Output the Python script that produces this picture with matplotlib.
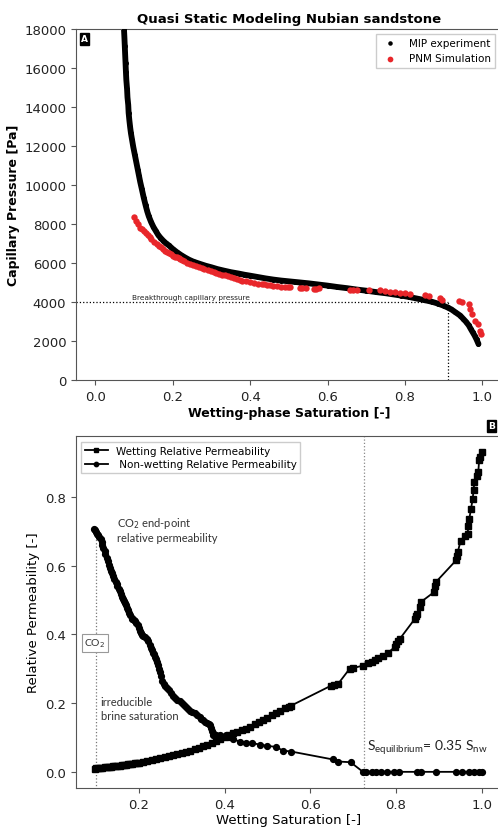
import matplotlib
matplotlib.use("Agg")
import matplotlib.pyplot as plt

# ---------------- Panel A data ----------------
mip_sw = [0.074, 0.075, 0.076, 0.077, 0.078, 0.079, 0.080, 0.082, 0.083, 0.085, 0.086, 0.088, 0.090,
          0.092, 0.095, 0.098, 0.102, 0.106, 0.110, 0.113, 0.116, 0.120, 0.125, 0.130, 0.134,
          0.138, 0.144, 0.150, 0.156, 0.162, 0.168, 0.175, 0.182, 0.190, 0.200, 0.211, 0.222,
          0.232, 0.242, 0.252, 0.262, 0.271, 0.285, 0.300, 0.315, 0.332, 0.350, 0.370, 0.385,
          0.400, 0.420, 0.440, 0.460, 0.480, 0.500, 0.515, 0.530, 0.550, 0.575, 0.600, 0.625,
          0.650, 0.675, 0.700, 0.725, 0.750, 0.770, 0.790, 0.810, 0.830, 0.850, 0.870, 0.885,
          0.900, 0.910, 0.920, 0.930, 0.943, 0.950, 0.958, 0.965, 0.970, 0.975, 0.980, 0.985,
          0.990]
mip_pc = [18000, 17600, 17150, 16700, 16250, 15800, 15400, 14900, 14500, 14100, 13700, 13300, 12950,
          12650, 12300, 11950, 11550, 11150, 10750, 10450, 10150, 9800, 9350, 8950, 8650,
          8400, 8100, 7850, 7650, 7450, 7300, 7150, 7020, 6900, 6720, 6550, 6400,
          6280, 6170, 6080, 6010, 5950, 5860, 5780, 5690, 5610, 5530, 5460, 5400,
          5350, 5280, 5210, 5150, 5100, 5060, 5030, 5000, 4960, 4900, 4840, 4770,
          4710, 4640, 4580, 4510, 4450, 4390, 4330, 4260, 4180, 4100, 4010, 3920,
          3810, 3720, 3620, 3480, 3300, 3150, 2980, 2800, 2620, 2450, 2280, 2080,
          1850]

pnm_sw = [0.099, 0.105, 0.110, 0.115, 0.120, 0.125, 0.130, 0.135, 0.140, 0.145, 0.152, 0.159,
          0.165, 0.170, 0.175, 0.180, 0.185, 0.190, 0.195, 0.200, 0.205, 0.211, 0.216, 0.220,
          0.225, 0.230, 0.238, 0.245, 0.252, 0.260, 0.268, 0.275, 0.282, 0.290, 0.298, 0.306,
          0.313, 0.320, 0.328, 0.335, 0.342, 0.350, 0.358, 0.366, 0.373, 0.380, 0.390, 0.400,
          0.410, 0.420, 0.430, 0.437, 0.444, 0.452, 0.460, 0.470, 0.480, 0.490, 0.497, 0.504,
          0.530, 0.535, 0.545, 0.564, 0.570, 0.577,
          0.659, 0.666, 0.676, 0.706, 0.735, 0.749, 0.762, 0.773, 0.788, 0.801, 0.814, 0.853,
          0.861, 0.891, 0.896, 0.939, 0.948, 0.965, 0.969, 0.973, 0.982, 0.990, 0.995, 0.997]
pnm_pc = [8340, 8150, 7980, 7820, 7740, 7657, 7540, 7430, 7340, 7250, 7100, 6974,
          6880, 6800, 6720, 6640, 6570, 6500, 6440, 6380, 6330, 6290, 6250, 6200,
          6150, 6100, 6020, 5949, 5900, 5850, 5790, 5740, 5690, 5640, 5580, 5521,
          5490, 5450, 5400, 5360, 5320, 5280, 5230, 5180, 5140, 5100, 5060, 5010,
          4980, 4940, 4920, 4900, 4872, 4850, 4830, 4800, 4780, 4760, 4755, 4750,
          4740, 4700, 4700, 4667, 4680, 4700,
          4630, 4640, 4600, 4596, 4596, 4562, 4528, 4528, 4482, 4482, 4420, 4360,
          4288, 4185, 4117, 4066, 3980, 3897, 3640, 3385, 3043, 2872, 2530, 2360]

breakthrough_pc = 4000
breakthrough_sw = 0.91

# ---------------- Panel B data ----------------
krw_sw = [0.097, 0.100, 0.105, 0.110, 0.115, 0.120, 0.125, 0.130, 0.135, 0.140, 0.145, 0.150,
          0.155, 0.160, 0.165, 0.170, 0.175, 0.180, 0.185, 0.190, 0.195, 0.200,
          0.210, 0.220, 0.230, 0.240, 0.250, 0.260, 0.270, 0.280, 0.290, 0.300, 0.310, 0.320,
          0.330, 0.340, 0.350, 0.360, 0.370, 0.380, 0.390, 0.400, 0.410, 0.420, 0.430, 0.440,
          0.450, 0.460, 0.470, 0.480, 0.490, 0.500, 0.510, 0.520, 0.530, 0.540, 0.550, 0.556,
          0.649, 0.655, 0.665, 0.692, 0.700, 0.723, 0.735, 0.743, 0.750, 0.758, 0.770, 0.781,
          0.797, 0.800, 0.805, 0.809, 0.844, 0.847, 0.850, 0.855, 0.858, 0.889, 0.891, 0.893,
          0.940, 0.942, 0.944, 0.951, 0.960, 0.967, 0.969, 0.971, 0.975, 0.979, 0.981, 0.983,
          0.988, 0.992, 0.994, 0.997, 1.000]
krw = [0.009, 0.010, 0.0105, 0.011, 0.012, 0.013, 0.0135, 0.014, 0.015, 0.016, 0.0165, 0.017,
       0.018, 0.019, 0.020, 0.021, 0.022, 0.023, 0.024, 0.025, 0.026, 0.027,
       0.029, 0.031, 0.034, 0.036, 0.039, 0.042, 0.045, 0.048, 0.051, 0.054, 0.058, 0.062,
       0.066, 0.070, 0.074, 0.079, 0.084, 0.089, 0.095, 0.101, 0.106, 0.112, 0.117, 0.121,
       0.125, 0.131, 0.138, 0.145, 0.152, 0.158, 0.164, 0.170, 0.178, 0.185, 0.190, 0.193,
       0.251, 0.253, 0.256, 0.300, 0.302, 0.309, 0.316, 0.321, 0.326, 0.331, 0.338, 0.346,
       0.363, 0.372, 0.380, 0.387, 0.445, 0.452, 0.458, 0.480, 0.494, 0.523, 0.540, 0.552,
       0.615, 0.627, 0.639, 0.673, 0.685, 0.692, 0.715, 0.736, 0.765, 0.794, 0.820, 0.843,
       0.860, 0.872, 0.906, 0.915, 0.930]

krnw_sw = [0.095, 0.097, 0.100, 0.103, 0.105, 0.108, 0.111, 0.113, 0.115, 0.117, 0.120, 0.122,
           0.125, 0.127, 0.130, 0.132, 0.135, 0.137, 0.140, 0.143, 0.146, 0.148, 0.150, 0.153,
           0.155, 0.158, 0.160, 0.163, 0.165, 0.168, 0.170, 0.173, 0.175, 0.178, 0.180, 0.183,
           0.185, 0.188, 0.190, 0.194, 0.197, 0.200, 0.203, 0.205, 0.208, 0.210, 0.214, 0.218,
           0.221, 0.225, 0.228, 0.230, 0.233, 0.235, 0.238, 0.241, 0.243, 0.245, 0.247, 0.250,
           0.252, 0.255, 0.258, 0.261, 0.265, 0.270, 0.275, 0.280, 0.285, 0.290, 0.295, 0.300,
           0.305, 0.311, 0.315, 0.320, 0.325, 0.330, 0.336, 0.342, 0.346, 0.350, 0.355, 0.360,
           0.363, 0.366, 0.368, 0.370, 0.372, 0.373, 0.380, 0.390, 0.404,
           0.410, 0.420, 0.436, 0.450, 0.465, 0.482, 0.500, 0.521, 0.536, 0.556, 0.653, 0.665,
           0.694, 0.723, 0.730, 0.745, 0.753, 0.765, 0.780, 0.796, 0.807, 0.850, 0.858, 0.893,
           0.940, 0.955, 0.971, 0.983, 0.994, 1.000]
krnw = [0.707, 0.703, 0.698, 0.693, 0.688, 0.683, 0.676, 0.668, 0.660, 0.652, 0.642, 0.633,
        0.622, 0.613, 0.602, 0.594, 0.585, 0.578, 0.570, 0.560, 0.552, 0.546, 0.540, 0.531,
        0.525, 0.516, 0.510, 0.502, 0.497, 0.490, 0.484, 0.476, 0.470, 0.461, 0.455, 0.449,
        0.445, 0.441, 0.438, 0.432, 0.426, 0.418, 0.410, 0.405, 0.399, 0.395, 0.391, 0.387,
        0.380, 0.370, 0.361, 0.355, 0.347, 0.342, 0.335, 0.329, 0.320, 0.310, 0.300, 0.290,
        0.280, 0.265, 0.257, 0.251, 0.245, 0.238, 0.230, 0.222, 0.216, 0.210, 0.205, 0.200,
        0.194, 0.188, 0.183, 0.178, 0.174, 0.170, 0.165, 0.159, 0.155, 0.150, 0.146, 0.142,
        0.139, 0.135, 0.128, 0.120, 0.112, 0.106, 0.106, 0.106, 0.106,
        0.101, 0.095, 0.088, 0.085, 0.084, 0.079, 0.076, 0.072, 0.062, 0.059, 0.036, 0.030,
        0.028, 0.0, 0.0, 0.0, 0.0, 0.0, 0.0, 0.0, 0.0, 0.0, 0.0, 0.0,
        0.0, 0.0, 0.0, 0.0, 0.0, 0.0]

irreducible_sw = 0.1
equilibrium_sw = 0.725

W, H = 498, 828
fig = plt.figure(figsize=(W / 100, H / 100), dpi=100)

def fx(px):
    return px / W

def fy(py):
    return 1 - py / H

spine_c = "#555555"

# ---------------- Panel A ----------------
axA = fig.add_axes([fx(76), fy(381), fx(501.7) - fx(76), fy(30) - fy(381)])
axA.plot(mip_sw, mip_pc, "-", color="black", lw=4.2, solid_capstyle="round", zorder=2)
axA.scatter(mip_sw, mip_pc, s=13, color="black", label="MIP experiment", zorder=3, linewidths=0)
axA.scatter(pnm_sw, pnm_pc, s=21, color="#e8262a", label="PNM Simulation", zorder=4, linewidths=0)
axA.plot([-0.05, breakthrough_sw], [breakthrough_pc, breakthrough_pc], ":", color="black", lw=0.9)
axA.plot([breakthrough_sw, breakthrough_sw], [0, breakthrough_pc], ":", color="black", lw=0.9)
axA.text(0.095, breakthrough_pc + 100, "Breakthrough capillary pressure", fontsize=5.3,
         family="Liberation Sans Narrow", color="#222222", va="bottom")
axA.set_xlim(-0.05, 1.05)
axA.set_ylim(0, 18000)
axA.set_xticks([0.0, 0.2, 0.4, 0.6, 0.8, 1.0])
axA.set_yticks(range(0, 18001, 2000))
axA.tick_params(labelsize=9.5, colors="#222222", color=spine_c)
for s in axA.spines.values():
    s.set_color(spine_c)
axA.set_title("Quasi Static Modeling Nubian sandstone", fontsize=9.5, fontweight="bold", pad=5)
axA.set_xlabel("Wetting-phase Saturation [-]", fontsize=9, fontweight="bold", labelpad=2)
axA.set_ylabel("Capillary Pressure [Pa]", fontsize=9, fontweight="bold", labelpad=3)
axA.text(0.012, 0.985, "A", transform=axA.transAxes, fontsize=6.5, fontweight="bold",
         color="white", va="top", ha="left",
         bbox=dict(boxstyle="square,pad=0.15", facecolor="black", edgecolor="black"))
axA.legend(loc="upper right", bbox_to_anchor=(fx(495), fy(35)), bbox_transform=fig.transFigure,
           fontsize=7.5, scatterpoints=1, handletextpad=0.8, borderpad=0.4,
           framealpha=1, edgecolor="#cccccc", fancybox=False, borderaxespad=0, markerscale=0.9)

# ---------------- Panel B ----------------
axB = fig.add_axes([fx(76), fy(789), fx(501) - fx(76), fy(437) - fy(789)])
axB.plot(krw_sw, krw, "s-", color="black", ms=4.2, lw=1.3, label="Wetting Relative Permeability")
axB.plot(krnw_sw, krnw, "o-", color="black", ms=4.2, lw=1.3, label=" Non-wetting Relative Permeability")
axB.axvline(equilibrium_sw, color="#888888", ls=":", lw=0.9, zorder=0)
axB.plot([irreducible_sw, irreducible_sw], [-0.05, krnw[1]], ":", color="#777777", lw=0.9, zorder=0)
axB.set_xlim(0.0535, 1.045)
axB.set_ylim(-0.047, 0.977)
axB.set_xticks([0.2, 0.4, 0.6, 0.8, 1.0])
axB.set_yticks([0.0, 0.2, 0.4, 0.6, 0.8])
axB.tick_params(labelsize=9.5, colors="#222222", color=spine_c)
for s in axB.spines.values():
    s.set_color(spine_c)
axB.set_xlabel("Wetting Saturation [-]", fontsize=9.5, labelpad=2)
axB.set_ylabel("Relative Permeability [-]", fontsize=9.5, labelpad=4)

ann_font = "Lato"
axB.text(0.148, 0.748, "CO$_2$ end-point\nrelative permeability", fontsize=8, family=ann_font,
         color="#333333", va="top", ha="left", linespacing=1.3)
axB.text(0.098, 0.375, "CO$_2$", fontsize=7.5, family=ann_font, color="#333333", va="center", ha="center",
         bbox=dict(boxstyle="square,pad=0.25", facecolor="white", edgecolor="#999999", lw=0.8))
axB.text(0.111, 0.222, "irreducible\nbrine saturation", fontsize=8, family=ann_font,
         color="#333333", va="top", ha="left", linespacing=1.35)
axB.text(0.733, 0.045, r"$\mathregular{S_{equilibrium}}$= 0.35 $\mathregular{S_{nw}}$", fontsize=10,
         family=ann_font, color="#222222", va="bottom", ha="left")
axB.legend(loc="upper left", bbox_to_anchor=(fx(81), fy(443)), bbox_transform=fig.transFigure,
           fontsize=7.5, handlelength=2.2, borderpad=0.35, labelspacing=0.35, handletextpad=0.8,
           framealpha=1, edgecolor="#cccccc", fancybox=False, borderaxespad=0, markerscale=0.75)
fig.text(fx(491.5), fy(427), "B", fontsize=6.5, fontweight="bold", color="white", ha="center", va="center",
         bbox=dict(boxstyle="square,pad=0.15", facecolor="black", edgecolor="black"))

fig.savefig("out.png", dpi=100)
